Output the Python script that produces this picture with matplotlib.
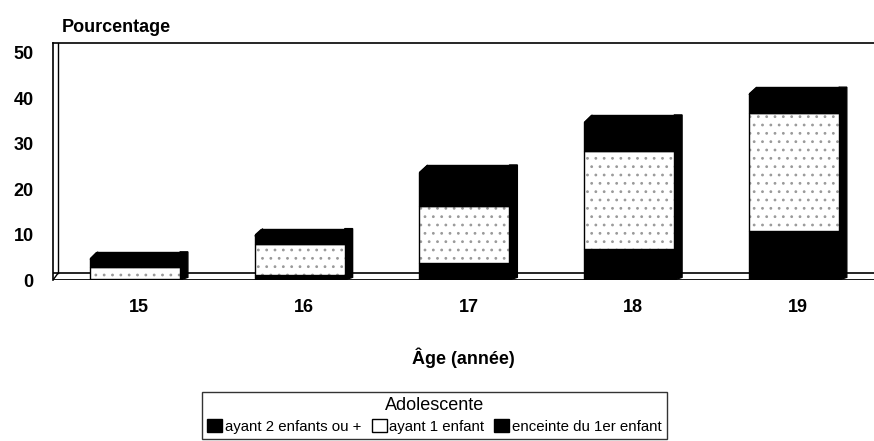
import numpy as np
import matplotlib.pyplot as plt
from matplotlib.patches import Polygon, Patch

plt.rcParams['font.family'] = ['Liberation Sans', 'DejaVu Sans']
plt.rcParams['hatch.linewidth'] = 0.8

ages = ['15', '16', '17', '18', '19']
deux_enfants = [0.2, 1.0, 3.7, 6.8, 10.8]
un_enfant = [2.7, 7.0, 12.6, 21.6, 25.9]
enceinte = [3.3, 3.3, 9.0, 7.9, 5.7]

fig = plt.figure(figsize=(8.74, 4.41), dpi=100)
ax = fig.add_axes([0.0606, 0.365, 0.9394, 0.5374])

x = np.arange(len(ages))
width = 0.546
depth = 0.048
ax.set_xlim(-0.498, 4.486)
ax.set_ylim(0, 52.1)

# floor of the 3D chart
ax.fill_between([-0.498, 4.486], 0, 1.5, color='white', zorder=1)
ax.axhline(1.5, color='black', lw=1.2, zorder=1)
ax.axhline(0, color='black', lw=2, zorder=1)
ax.plot([0.006, 0.006], [0.028, 1.0], color='black', lw=1.0, transform=ax.transAxes, zorder=1)
ax.plot([0.0, 0.006], [0.0, 0.028], color='black', lw=1.0, transform=ax.transAxes, zorder=1)

ax.bar(x, deux_enfants, width, color='black', edgecolor='black', lw=1, zorder=3)
ax.bar(x, un_enfant, width, bottom=deux_enfants, color='white', edgecolor='#9a9a9a',
       lw=0, hatch='..', zorder=3)
ax.bar(x, un_enfant, width, bottom=deux_enfants, fill=False, edgecolor='black', lw=1, zorder=4)
tops = np.array(deux_enfants) + np.array(un_enfant)
ax.bar(x, enceinte, width, bottom=tops, color='black', edgecolor='black', lw=1, zorder=3)

# side face and bevelled top corner of each bar
totals = tops + np.array(enceinte)
cx, cy = 0.05, 1.7
for xi, tot in zip(x, totals):
    xl = xi - width / 2
    xr = xi + width / 2
    ax.add_patch(Polygon([[xr, 0], [xr + depth, 0.6], [xr + depth, tot], [xr, tot]],
                         closed=True, color='black', zorder=2))
    ax.add_patch(Polygon([[xl - 0.01, tot - cy], [xl - 0.01, tot + 0.3], [xl + cx, tot + 0.3]],
                         closed=True, color='white', lw=0, zorder=5))
    ax.plot([xl, xl + cx], [tot - cy, tot], color='black', lw=1.0,
            solid_capstyle='butt', zorder=6)

ax.set_xticks(x + depth / 2)
ax.set_xticklabels(ages, fontsize=13, fontweight='bold')
ax.set_yticks([0, 10, 20, 30, 40, 50])
ax.set_yticklabels(['0', '10', '20', '30', '40', '50'], fontsize=13, fontweight='bold')
ax.tick_params(length=0)
ax.tick_params(axis='y', pad=14)
ax.tick_params(axis='x', pad=14)

for s in ['right', 'bottom']:
    ax.spines[s].set_visible(False)
ax.spines['left'].set_linewidth(1.2)
ax.spines['top'].set_linewidth(1.2)

fig.text(0.071, 0.937, 'Pourcentage', fontsize=13, fontweight='bold', ha='left', va='center')
ax.set_xlabel('Âge (année)', fontsize=13, fontweight='bold', labelpad=22)

handles = [Patch(facecolor='black', edgecolor='black'),
           Patch(facecolor='white', edgecolor='black'),
           Patch(facecolor='black', edgecolor='black')]
leg = fig.legend(handles, ['ayant 2 enfants ou +', 'ayant 1 enfant', 'enceinte du 1er enfant'],
                 title='Adolescente', ncol=3, loc='lower center', bbox_to_anchor=(0.497, 0.005),
                 frameon=True, fancybox=False, edgecolor='black', fontsize=10.8,
                 title_fontsize=13, handlelength=1.0, handleheight=0.9, handletextpad=0.15,
                 columnspacing=0.7, borderpad=0.35, labelspacing=0.35, borderaxespad=0)
leg.get_frame().set_linewidth(1.0)

fig.savefig('out.png', dpi=100)
